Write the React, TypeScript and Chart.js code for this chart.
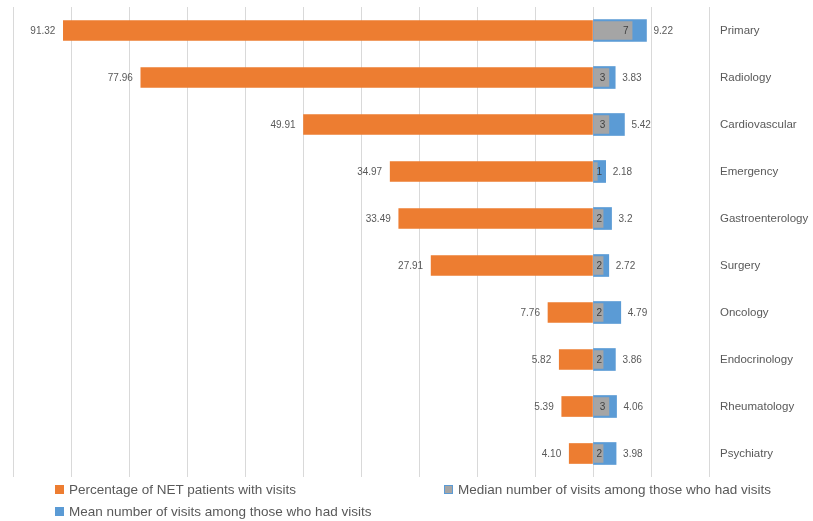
import React, { useEffect, useRef } from "react";
import { Chart, registerables } from "chart.js";

Chart.register(...registerables);

const categories = [
  "Primary",
  "Radiology",
  "Cardiovascular",
  "Emergency",
  "Gastroenterology",
  "Surgery",
  "Oncology",
  "Endocrinology",
  "Rheumatology",
  "Psychiatry",
];
const pctPatients = [91.32, 77.96, 49.91, 34.97, 33.49, 27.91, 7.76, 5.82, 5.39, 4.1];
const medianVisits = [7, 3, 3, 1, 2, 2, 2, 2, 3, 2];
const meanVisits = [9.22, 3.83, 5.42, 2.18, 3.2, 2.72, 4.79, 3.86, 4.06, 3.98];

const seriesNames = [
  "Percentage of NET patients with visits",
  "Median number of visits among those who had visits",
  "Mean number of visits among those who had visits",
];

const ORANGE = "#ed7d31";
const GRAY = "#a5a5a5";
const BLUE = "#5b9bd5";
const TEXT = "#595959";
const FONT = "'Liberation Sans', Arial, sans-serif";

const labelPlugin = {
  id: "barLabels",
  afterDatasetsDraw(chart: any) {
    const ctx = chart.ctx;
    ctx.save();
    ctx.font = `10px ${FONT}`;
    ctx.fillStyle = TEXT;
    ctx.textBaseline = "middle";
    chart.getDatasetMeta(0).data.forEach((bar: any, i: number) => {
      ctx.textAlign = "right";
      ctx.fillText(pctPatients[i].toFixed(2), bar.x - 8, bar.y + 1);
    });
    chart.getDatasetMeta(2).data.forEach((bar: any, i: number) => {
      ctx.textAlign = "left";
      ctx.fillText(String(meanVisits[i]), bar.x + 7, bar.y + 1);
    });
    ctx.fillStyle = "#404040";
    chart.getDatasetMeta(1).data.forEach((bar: any, i: number) => {
      const t = String(medianVisits[i]);
      const w = ctx.measureText(t).width;
      const right = Math.max(bar.x - 5, bar.base + w + 3);
      ctx.textAlign = "right";
      ctx.fillText(t, right, bar.y + 1);
    });
    ctx.restore();
  },
};

export default function App() {
  const ref = useRef<HTMLCanvasElement | null>(null);

  useEffect(() => {
    document.body.style.margin = "0";
    const chart = new Chart(ref.current as HTMLCanvasElement, {
      type: "bar",
      data: {
        labels: categories,
        datasets: [
          {
            label: seriesNames[0],
            data: pctPatients.map((v) => -v),
            backgroundColor: ORANGE,
            barThickness: 20,
            grouped: false,
          } as any,
          {
            label: seriesNames[1],
            data: medianVisits,
            backgroundColor: GRAY,
            borderColor: "rgba(91,155,213,0.75)",
            borderWidth: 1.5,
            barThickness: 21,
            grouped: false,
          } as any,
          {
            label: seriesNames[2],
            data: meanVisits,
            backgroundColor: BLUE,
            barThickness: 22,
            grouped: false,
          } as any,
        ],
      },
      options: {
        indexAxis: "y",
        animation: false,
        responsive: false,
        maintainAspectRatio: false,
        layout: { padding: { left: 13, top: 7, bottom: 44, right: 0 } },
        plugins: {
          legend: { display: false },
          tooltip: { enabled: false },
        },
        scales: {
          x: {
            type: "linear",
            min: -100,
            max: 20,
            ticks: { display: false, stepSize: 10 },
            grid: { color: "#d9d9d9", drawTicks: false, lineWidth: 1 },
            border: { display: false },
            afterFit: (s: any) => {
              s.height = 0;
              s.paddingLeft = 0;
              s.paddingRight = 0;
            },
          },
          y: {
            position: "right",
            ticks: {
              padding: 11,
              crossAlign: "near",
              color: TEXT,
              font: { family: FONT, size: 11.5 },
            },
            grid: { display: false, drawTicks: false },
            border: { display: false },
            afterFit: (s: any) => {
              s.width = 104;
              s.paddingTop = 0;
              s.paddingBottom = 0;
            },
          },
        },
      } as any,
      plugins: [labelPlugin],
    });
    return () => chart.destroy();
  }, []);

  const legendText: React.CSSProperties = {
    position: "absolute",
    font: `13.5px ${FONT}`,
    color: TEXT,
    whiteSpace: "nowrap",
    lineHeight: "16px",
  };
  const box = (bg: string, border?: string): React.CSSProperties => ({
    display: "inline-block",
    width: border ? 7 : 9,
    height: border ? 7 : 9,
    background: bg,
    border: border ? `1px solid ${border}` : "none",
    marginRight: 5,
    verticalAlign: "middle",
    position: "relative",
    top: -1,
  });

  return (
    <div style={{ position: "relative", width: 813, height: 521, background: "#fff" }}>
      <canvas ref={ref} width={813} height={521} style={{ display: "block" }} />
      <div style={{ ...legendText, left: 55, top: 482 }}>
        <span style={box(ORANGE)} />
        {seriesNames[0]}
      </div>
      <div style={{ ...legendText, left: 444, top: 482 }}>
        <span style={box(GRAY, BLUE)} />
        {seriesNames[1]}
      </div>
      <div style={{ ...legendText, left: 55, top: 504 }}>
        <span style={box(BLUE)} />
        {seriesNames[2]}
      </div>
    </div>
  );
}
